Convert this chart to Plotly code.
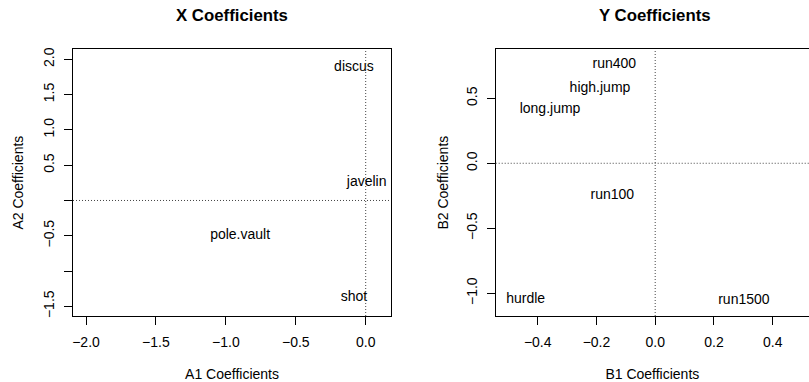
import plotly.graph_objects as go

# X coefficients (left panel)
x_vars = ["discus", "javelin", "pole.vault", "shot"]
x_a1 = [-0.084, 0.007, -0.898, -0.084]
x_a2 = [1.887, 0.252, -0.503, -1.371]

# Y coefficients (right panel)
y_vars = ["run400", "high.jump", "long.jump", "run100", "hurdle", "run1500"]
y_b1 = [-0.139, -0.188, -0.358, -0.146, -0.441, 0.302]
y_b2 = [0.762, 0.572, 0.410, -0.249, -1.046, -1.059]

left_xticks = [-2.0, -1.5, -1.0, -0.5, 0.0]
left_yticks = [2.0, 1.5, 1.0, 0.5, 0.0, -0.5, -1.0, -1.5]
left_yticktext = ["2.0", "1.5", "1.0", "0.5", "", "\u22120.5", "", "\u22121.5"]
right_xticks = [-0.4, -0.2, 0.0, 0.2, 0.4]
right_yticks = [0.5, 0.0, -0.5, -1.0]

FONT = "Liberation Sans, Arial, Helvetica, sans-serif"
W, H = 809, 382

fig = go.Figure()
fig.add_trace(go.Scatter(x=x_a1, y=x_a2, text=x_vars, mode="text",
                         textfont=dict(size=14, color="black", family=FONT),
                         xaxis="x", yaxis="y", showlegend=False, hoverinfo="skip"))
fig.add_trace(go.Scatter(x=y_b1, y=y_b2, text=y_vars, mode="text",
                         textfont=dict(size=14, color="black", family=FONT),
                         xaxis="x2", yaxis="y2", showlegend=False, hoverinfo="skip"))

ydom = [(H - 316) / H, (H - 49.3) / H]
common = dict(showgrid=False, zeroline=False, ticks="outside", ticklen=8,
              tickcolor="black", tickwidth=1, linecolor="black", linewidth=1,
              showline=True, automargin=False,
              tickfont=dict(size=14, color="black", family=FONT),
              title_font=dict(size=14, color="black", family=FONT))

fig.update_layout(
    width=W, height=H, margin=dict(l=0, r=0, t=0, b=0),
    plot_bgcolor="white", paper_bgcolor="white",
    font=dict(family=FONT, color="black"),
    xaxis=dict(domain=[73 / W, 391 / W], range=[-2.093, 0.181],
               tickvals=left_xticks, tickformat=".1f", mirror=True,
               anchor="y", title=dict(text="A1 Coefficients", standoff=22),
               ticklabelstandoff=5, **common),
    yaxis=dict(domain=ydom, range=[-1.637, 2.142],
               tickvals=left_yticks, ticktext=left_yticktext, tickangle=-90,
               mirror=True, anchor="x",
               title=dict(text="A2 Coefficients", standoff=14),
               ticklabelstandoff=4, **common),
    xaxis2=dict(domain=[495.7 / W, 1.0], range=[-0.543, 0.5236],
                tickvals=right_xticks, tickformat=".1f", mirror=True,
                anchor="y2", title=dict(text="B1 Coefficients", standoff=22),
                ticklabelstandoff=5, **common),
    yaxis2=dict(domain=ydom, range=[-1.175, 0.877],
                tickvals=right_yticks, tickformat=".1f", tickangle=-90,
                mirror=False, anchor="x2",
                title=dict(text="B2 Coefficients", standoff=12),
                ticklabelstandoff=4, **common),
)

# dotted reference lines at zero
for xr, yr in (("x", "y"), ("x2", "y2")):
    fig.add_shape(type="line", xref=xr, yref=yr + " domain", x0=0, x1=0, y0=0, y1=1,
                  line=dict(color="#444444", width=1, dash="1px,2px"))
    fig.add_shape(type="line", xref=xr + " domain", yref=yr, x0=0, x1=1, y0=0, y1=0,
                  line=dict(color="#444444", width=1, dash="1px,2px"))

# panel titles
for txt, cx in (("X Coefficients", 232), ("Y Coefficients", 655)):
    fig.add_annotation(text="<b>%s</b>" % txt, x=cx / W, y=1 - 15.5 / H,
                       xref="paper", yref="paper", showarrow=False,
                       xanchor="center", yanchor="middle",
                       font=dict(size=16.8, color="black", family=FONT))

fig.write_html("out.html", config={"displayModeBar": False},
               post_script="document.body.style.margin='0';document.body.style.overflow='hidden';")
